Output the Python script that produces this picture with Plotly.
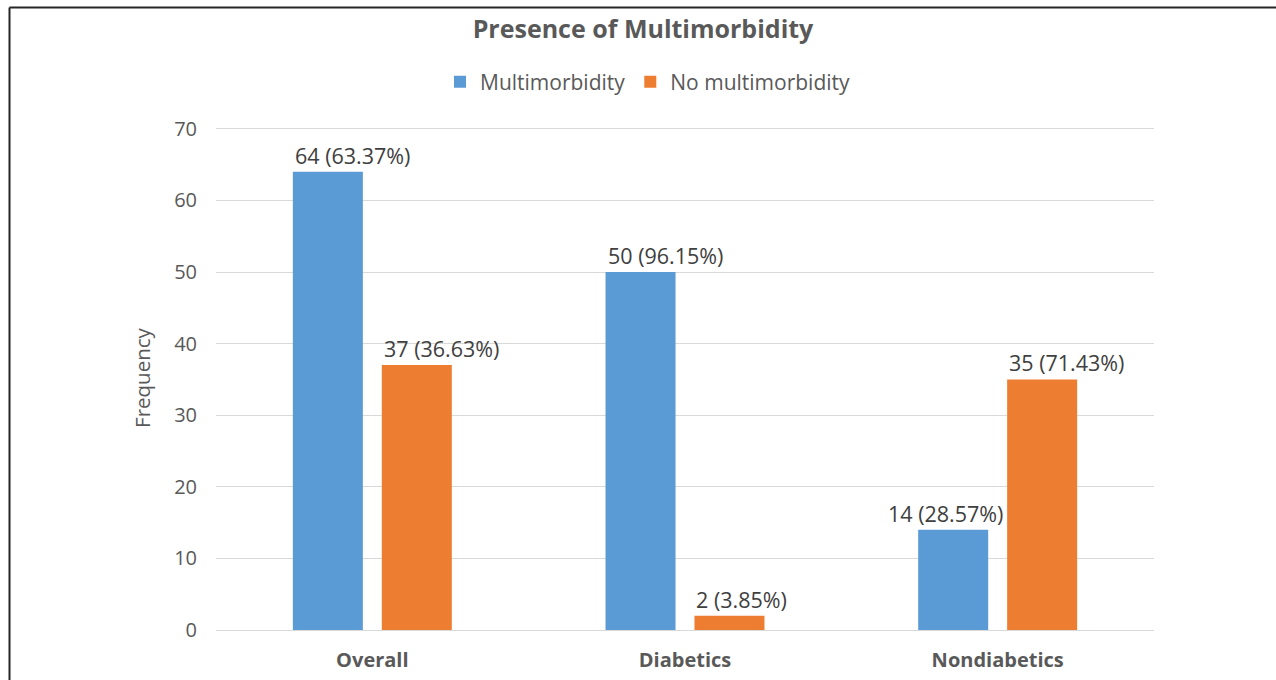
import plotly.graph_objects as go

categories = ["Overall", "Diabetics", "Nondiabetics"]
multi_values = [64, 50, 14]
multi_pct = [63.37, 96.15, 28.57]
nomulti_values = [37, 2, 35]
nomulti_pct = [36.63, 3.85, 71.43]
y_ticks = [0, 10, 20, 30, 40, 50, 60, 70]

# horizontal label placement relative to each bar's left edge (px)
multi_label_nudge = [0, 0, -32]
nomulti_label_nudge = [0, 0, 0]

FONT = "Open Sans"
W, H = 1276, 680
L, R, T, B = 216, 122, 126, 50
pw, ph = W - L - R, H - T - B
YMAX = 70.4

def px_x(p):
    return (p - L) / pw

def px_y(p):
    return (H - B - p) / ph

BLUE, ORANGE = "#5B9BD5", "#ED7D31"

fig = go.Figure()
fig.add_trace(go.Bar(name="Multimorbidity", x=categories, y=multi_values,
                     marker=dict(color=BLUE, line=dict(width=0))))
fig.add_trace(go.Bar(name="No multimorbidity", x=categories, y=nomulti_values,
                     marker=dict(color=ORANGE, line=dict(width=0))))

bargap, bargroupgap = 0.431, 0.213
cat_px = pw / len(categories)
slot = cat_px * (1 - bargap) / 2
left_off_blue = -slot + slot * bargroupgap / 2
left_off_orange = slot * bargroupgap / 2

for c, v, p, n in zip(categories, multi_values, multi_pct, multi_label_nudge):
    fig.add_annotation(x=c, y=v, text=f"{v} ({p:.2f}%)", showarrow=False,
                       xanchor="left", yanchor="bottom", xshift=left_off_blue + n, yshift=0,
                       font=dict(family=FONT, size=21.5, color="#404040"))
for c, v, p, n in zip(categories, nomulti_values, nomulti_pct, nomulti_label_nudge):
    fig.add_annotation(x=c, y=v, text=f"{v} ({p:.2f}%)", showarrow=False,
                       xanchor="left", yanchor="bottom", xshift=left_off_orange + n, yshift=0,
                       font=dict(family=FONT, size=21.5, color="#404040"))

fig.update_layout(
    width=W, height=H,
    margin=dict(l=L, r=R, t=T, b=B, autoexpand=False),
    paper_bgcolor="white", plot_bgcolor="white",
    barmode="group", bargap=bargap, bargroupgap=bargroupgap,
    title=dict(text="<b>Presence of Multimorbidity</b>", x=643 / W, xanchor="center",
               y=1 - 29 / H, yanchor="middle",
               font=dict(family=FONT, size=25, color="#595959")),
    legend=dict(orientation="h", x=px_x(648), xanchor="center", y=px_y(82), yanchor="middle",
                font=dict(family=FONT, size=21, color="#595959"),
                itemwidth=30, traceorder="normal", bgcolor="rgba(0,0,0,0)"),
    font=dict(family=FONT, color="#595959"),
    showlegend=True,
)
fig.update_yaxes(
    range=[0, YMAX], tickvals=y_ticks, showgrid=True, gridcolor="#D9D9D9", gridwidth=1,
    zeroline=True, zerolinecolor="#D9D9D9", zerolinewidth=1, showline=False,
    tickfont=dict(family=FONT, size=20, color="#595959"), ticklabelstandoff=18,
    title=dict(text="Frequency", font=dict(family=FONT, size=20.5, color="#595959"), standoff=17),
    automargin=False, fixedrange=True,
)
fig.update_xaxes(
    showline=False, showgrid=False,
    tickfont=dict(family=FONT, size=20, color="#595959"), ticklabelstandoff=16,
    tickvals=categories, ticktext=[f"<b>{c}</b>" for c in categories],
    automargin=False, fixedrange=True,
)

fig.add_shape(type="line", xref="paper", yref="paper",
              x0=px_x(9.5), x1=px_x(1280), y0=px_y(7.5), y1=px_y(7.5),
              line=dict(color="#262626", width=2))
fig.add_shape(type="line", xref="paper", yref="paper",
              x0=px_x(9.5), x1=px_x(9.5), y0=px_y(7.5), y1=px_y(685),
              line=dict(color="#262626", width=2))

fig.write_html("out.html", config={"displayModeBar": False},
               post_script="document.body.style.margin='0';")
